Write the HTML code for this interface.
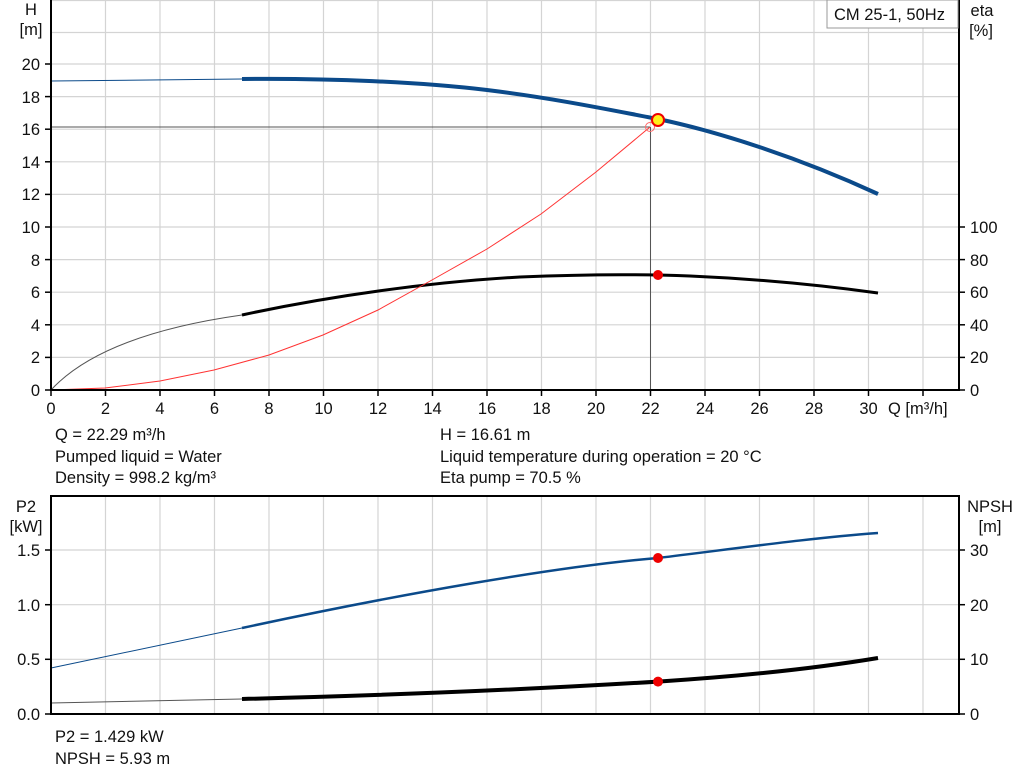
<!DOCTYPE html><html><head><style>body{margin:0;background:#fff}svg{display:block;font-family:"Liberation Sans",Arial,sans-serif}</style></head><body>
<svg width="1024" height="781" viewBox="0 0 1024 781">
<g stroke="#d4d4d4" stroke-width="1.2">
<line x1="105.5" y1="0" x2="105.5" y2="390"/><line x1="160" y1="0" x2="160" y2="390"/><line x1="214.5" y1="0" x2="214.5" y2="390"/><line x1="269" y1="0" x2="269" y2="390"/><line x1="323.5" y1="0" x2="323.5" y2="390"/><line x1="378" y1="0" x2="378" y2="390"/><line x1="432.5" y1="0" x2="432.5" y2="390"/><line x1="487" y1="0" x2="487" y2="390"/><line x1="541.5" y1="0" x2="541.5" y2="390"/><line x1="596" y1="0" x2="596" y2="390"/><line x1="650.5" y1="0" x2="650.5" y2="390"/><line x1="705" y1="0" x2="705" y2="390"/><line x1="759.5" y1="0" x2="759.5" y2="390"/><line x1="814" y1="0" x2="814" y2="390"/><line x1="868.5" y1="0" x2="868.5" y2="390"/><line x1="923" y1="0" x2="923" y2="390"/>
<line x1="51" y1="357.4" x2="959" y2="357.4"/><line x1="51" y1="324.8" x2="959" y2="324.8"/><line x1="51" y1="292.2" x2="959" y2="292.2"/><line x1="51" y1="259.6" x2="959" y2="259.6"/><line x1="51" y1="227" x2="959" y2="227"/><line x1="51" y1="194.4" x2="959" y2="194.4"/><line x1="51" y1="161.8" x2="959" y2="161.8"/><line x1="51" y1="129.2" x2="959" y2="129.2"/><line x1="51" y1="96.6" x2="959" y2="96.6"/><line x1="51" y1="64" x2="959" y2="64"/><line x1="51" y1="32.5" x2="959" y2="32.5"/><line x1="51" y1="0.5" x2="959" y2="0.5"/>
<line x1="105.5" y1="496" x2="105.5" y2="714"/><line x1="160" y1="496" x2="160" y2="714"/><line x1="214.5" y1="496" x2="214.5" y2="714"/><line x1="269" y1="496" x2="269" y2="714"/><line x1="323.5" y1="496" x2="323.5" y2="714"/><line x1="378" y1="496" x2="378" y2="714"/><line x1="432.5" y1="496" x2="432.5" y2="714"/><line x1="487" y1="496" x2="487" y2="714"/><line x1="541.5" y1="496" x2="541.5" y2="714"/><line x1="596" y1="496" x2="596" y2="714"/><line x1="650.5" y1="496" x2="650.5" y2="714"/><line x1="705" y1="496" x2="705" y2="714"/><line x1="759.5" y1="496" x2="759.5" y2="714"/><line x1="814" y1="496" x2="814" y2="714"/><line x1="868.5" y1="496" x2="868.5" y2="714"/><line x1="923" y1="496" x2="923" y2="714"/>
<line x1="51" y1="659.3" x2="959" y2="659.3"/><line x1="51" y1="604.7" x2="959" y2="604.7"/><line x1="51" y1="550" x2="959" y2="550"/>
</g>
<g stroke="#555" stroke-width="1"><line x1="51" y1="127" x2="650" y2="127"/><line x1="650.5" y1="127" x2="650.5" y2="390"/></g>
<path d="M51,81 L242,79" stroke="#0b4a8a" stroke-width="1" fill="none"/>
<path d="M242,79 C330,78 420,82 487,90 C560,99 620,112 658,119 C720,132 800,158 878,194" stroke="#0b4a8a" stroke-width="4" fill="none"/>
<path d="M51,390 C85,353 150,328 242,315" stroke="#555" stroke-width="1" fill="none"/>
<path d="M242,315 C330,296 430,282 520,277 C590,274 640,274 690,276 C760,279 820,285 878,293" stroke="#000" stroke-width="3" fill="none"/>
<polyline points="51,390 105,388 160,381 214,370 269,355 323,335 378,310 432,280 487,249 541,214 596,172 650,127" stroke="#f33" stroke-width="1" fill="none"/>
<circle cx="650" cy="127" r="4.5" fill="none" stroke="#f66" stroke-width="1"/>
<circle cx="658" cy="120" r="6" fill="#ffef1a" stroke="#e00" stroke-width="2"/>
<circle cx="658" cy="275" r="5" fill="#e00"/>
<path d="M51,668 L242,628" stroke="#0b4a8a" stroke-width="1" fill="none"/>
<path d="M242,628 C400,594 560,566 658,558 C740,548 810,538 878,533" stroke="#0b4a8a" stroke-width="2.5" fill="none"/>
<path d="M51,703 L242,699" stroke="#555" stroke-width="1" fill="none"/>
<path d="M242,699 C400,695 520,690 658,681.6 C760,675 830,666 878,658" stroke="#000" stroke-width="4" fill="none"/>
<circle cx="658" cy="558" r="5" fill="#e00"/>
<circle cx="658" cy="681.6" r="5" fill="#e00"/>
<g stroke="#000" stroke-width="2" fill="none">
<line x1="51" y1="0" x2="51" y2="391"/><line x1="50" y1="390" x2="959" y2="390"/><line x1="959" y1="0" x2="959" y2="391"/>
<rect x="51" y="496" width="908" height="218"/>
</g>
<g stroke="#000" stroke-width="1.5">
<line x1="45" y1="390" x2="51" y2="390"/><line x1="45" y1="357.4" x2="51" y2="357.4"/><line x1="45" y1="324.8" x2="51" y2="324.8"/><line x1="45" y1="292.2" x2="51" y2="292.2"/><line x1="45" y1="259.6" x2="51" y2="259.6"/><line x1="45" y1="227" x2="51" y2="227"/><line x1="45" y1="194.4" x2="51" y2="194.4"/><line x1="45" y1="161.8" x2="51" y2="161.8"/><line x1="45" y1="129.2" x2="51" y2="129.2"/><line x1="45" y1="96.6" x2="51" y2="96.6"/><line x1="45" y1="64" x2="51" y2="64"/>
<line x1="959" y1="390" x2="965" y2="390"/><line x1="959" y1="357.4" x2="965" y2="357.4"/><line x1="959" y1="324.8" x2="965" y2="324.8"/><line x1="959" y1="292.2" x2="965" y2="292.2"/><line x1="959" y1="259.6" x2="965" y2="259.6"/><line x1="959" y1="227" x2="965" y2="227"/>
<line x1="51" y1="390" x2="51" y2="396"/><line x1="105.5" y1="390" x2="105.5" y2="396"/><line x1="160" y1="390" x2="160" y2="396"/><line x1="214.5" y1="390" x2="214.5" y2="396"/><line x1="269" y1="390" x2="269" y2="396"/><line x1="323.5" y1="390" x2="323.5" y2="396"/><line x1="378" y1="390" x2="378" y2="396"/><line x1="432.5" y1="390" x2="432.5" y2="396"/><line x1="487" y1="390" x2="487" y2="396"/><line x1="541.5" y1="390" x2="541.5" y2="396"/><line x1="596" y1="390" x2="596" y2="396"/><line x1="650.5" y1="390" x2="650.5" y2="396"/><line x1="705" y1="390" x2="705" y2="396"/><line x1="759.5" y1="390" x2="759.5" y2="396"/><line x1="814" y1="390" x2="814" y2="396"/><line x1="868.5" y1="390" x2="868.5" y2="396"/><line x1="923" y1="390" x2="923" y2="396"/>
<line x1="45" y1="714" x2="51" y2="714"/><line x1="45" y1="659.3" x2="51" y2="659.3"/><line x1="45" y1="604.7" x2="51" y2="604.7"/><line x1="45" y1="550" x2="51" y2="550"/>
<line x1="959" y1="714" x2="965" y2="714"/><line x1="959" y1="659.3" x2="965" y2="659.3"/><line x1="959" y1="604.7" x2="965" y2="604.7"/><line x1="959" y1="550" x2="965" y2="550"/>
</g>
<rect x="827" y="0" width="131" height="28" fill="#fff" stroke="#999" stroke-width="1"/>
<g font-size="16.5" fill="#111">
<text x="834" y="20">CM 25-1, 50Hz</text>
<g text-anchor="end"><text x="40" y="396">0</text><text x="40" y="363">2</text><text x="40" y="331">4</text><text x="40" y="298">6</text><text x="40" y="266">8</text><text x="40" y="233">10</text><text x="40" y="200">12</text><text x="40" y="168">14</text><text x="40" y="135">16</text><text x="40" y="103">18</text><text x="40" y="70">20</text>
<text x="40" y="720">0.0</text><text x="40" y="665">0.5</text><text x="40" y="611">1.0</text><text x="40" y="556">1.5</text></g>
<g text-anchor="middle"><text x="31" y="15">H</text><text x="31" y="35">[m]</text><text x="26" y="512">P2</text><text x="26" y="532">[kW]</text>
<text x="51" y="414">0</text><text x="105.5" y="414">2</text><text x="160" y="414">4</text><text x="214.5" y="414">6</text><text x="269" y="414">8</text><text x="323.5" y="414">10</text><text x="378" y="414">12</text><text x="432.5" y="414">14</text><text x="487" y="414">16</text><text x="541.5" y="414">18</text><text x="596" y="414">20</text><text x="650.5" y="414">22</text><text x="705" y="414">24</text><text x="759.5" y="414">26</text><text x="814" y="414">28</text><text x="868.5" y="414">30</text>
<text x="982" y="16">eta</text><text x="981" y="36">[%]</text><text x="990" y="512">NPSH</text><text x="990" y="532">[m]</text></g>
<text x="888" y="414">Q [m³/h]</text>
<text x="970" y="396">0</text><text x="970" y="363">20</text><text x="970" y="331">40</text><text x="970" y="298">60</text><text x="970" y="266">80</text><text x="970" y="233">100</text>
<text x="970" y="720">0</text><text x="970" y="665">10</text><text x="970" y="611">20</text><text x="970" y="556">30</text>
<text x="55" y="440">Q = 22.29 m³/h</text><text x="55" y="462">Pumped liquid = Water</text><text x="55" y="483">Density = 998.2 kg/m³</text>
<text x="440" y="440">H = 16.61 m</text><text x="440" y="462">Liquid temperature during operation = 20 °C</text><text x="440" y="483">Eta pump = 70.5 %</text>
<text x="55" y="742">P2 = 1.429 kW</text><text x="55" y="764">NPSH = 5.93 m</text>
</g>
</svg></body></html>
